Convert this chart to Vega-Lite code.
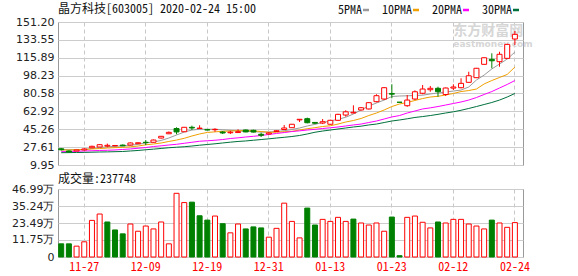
{
  "$schema": "https://vega.github.io/schema/vega-lite/v6.json",
  "background": "white",
  "padding": {"left": 5, "top": 2, "right": 5, "bottom": 2},
  "spacing": 1,
  "config": {
    "font": "DejaVu Sans",
    "view": {"stroke": "#999999", "strokeWidth": 1},
    "axisY": {"labelOverlap": false, "labelFlush": false, "labelBound": false, "grid": true, "gridColor": "#cccccc", "domain": false, "ticks": false, "tickSize": 0, "labelPadding": 4, "labelFont": "DejaVu Sans", "labelFontSize": 11, "labelColor": "#222222", "minExtent": 52, "maxExtent": 52, "title": null}
  },
  "datasets": {
    "k": [
      {"date":"11-22","open":26.0,"high":26.7,"low":24.3,"close":25.0,"vol":9.1,"dir":"down","5PMA":25.3,"10PMA":24.8,"20PMA":23.1,"30PMA":22.1},
      {"date":"11-25","open":23.8,"high":24.3,"low":22.3,"close":22.8,"vol":9.1,"dir":"down","5PMA":25.1,"10PMA":24.8,"20PMA":23.3,"30PMA":22.2},
      {"date":"11-26","open":23.8,"high":25.1,"low":23.5,"close":24.8,"vol":7.5,"dir":"up","5PMA":25.0,"10PMA":25.0,"20PMA":23.5,"30PMA":22.3},
      {"date":"11-27","open":24.8,"high":26.7,"low":24.3,"close":25.8,"vol":10.5,"dir":"up","5PMA":25.3,"10PMA":25.2,"20PMA":23.8,"30PMA":22.4},
      {"date":"11-28","open":27.0,"high":29.0,"low":26.7,"close":28.4,"vol":25.3,"dir":"up","5PMA":26.3,"10PMA":25.8,"20PMA":24.0,"30PMA":22.6},
      {"date":"11-29","open":27.7,"high":30.7,"low":27.7,"close":30.0,"vol":29.7,"dir":"up","5PMA":27.2,"10PMA":26.2,"20PMA":24.3,"30PMA":22.8},
      {"date":"12-02","open":28.6,"high":31.1,"low":27.4,"close":29.4,"vol":24.2,"dir":"down","5PMA":27.9,"10PMA":26.7,"20PMA":24.5,"30PMA":22.9},
      {"date":"12-03","open":28.9,"high":29.7,"low":28.4,"close":29.2,"vol":18.7,"dir":"down","5PMA":28.4,"10PMA":27.1,"20PMA":24.8,"30PMA":23.1},
      {"date":"12-04","open":29.6,"high":30.2,"low":28.6,"close":28.9,"vol":16.0,"dir":"down","5PMA":28.7,"10PMA":27.4,"20PMA":25.3,"30PMA":23.3},
      {"date":"12-05","open":29.7,"high":32.2,"low":29.2,"close":31.7,"vol":22.8,"dir":"up","5PMA":29.4,"10PMA":27.9,"20PMA":25.8,"30PMA":23.8},
      {"date":"12-06","open":31.0,"high":32.3,"low":30.7,"close":31.9,"vol":17.8,"dir":"up","5PMA":30.4,"10PMA":28.7,"20PMA":26.5,"30PMA":24.3},
      {"date":"12-09","open":32.4,"high":34.6,"low":29.7,"close":32.1,"vol":21.4,"dir":"up","5PMA":31.7,"10PMA":29.9,"20PMA":27.2,"30PMA":25.0},
      {"date":"12-10","open":32.4,"high":35.1,"low":32.2,"close":34.6,"vol":19.4,"dir":"up","5PMA":32.7,"10PMA":30.7,"20PMA":28.2,"30PMA":25.6},
      {"date":"12-11","open":36.6,"high":38.6,"low":36.1,"close":38.3,"vol":24.2,"dir":"up","5PMA":34.2,"10PMA":31.7,"20PMA":28.9,"30PMA":26.3},
      {"date":"12-12","open":40.8,"high":43.0,"low":40.5,"close":42.2,"vol":9.1,"dir":"up","5PMA":36.6,"10PMA":33.2,"20PMA":29.7,"30PMA":27.0},
      {"date":"12-13","open":46.0,"high":47.2,"low":40.3,"close":42.6,"vol":44.0,"dir":"up","5PMA":39.6,"10PMA":34.6,"20PMA":30.4,"30PMA":27.5},
      {"date":"12-16","open":42.8,"high":47.5,"low":42.6,"close":47.2,"vol":37.6,"dir":"up","5PMA":42.5,"10PMA":36.3,"20PMA":31.4,"30PMA":28.0},
      {"date":"12-17","open":47.2,"high":48.8,"low":44.5,"close":46.5,"vol":37.9,"dir":"down","5PMA":44.5,"10PMA":38.6,"20PMA":32.4,"30PMA":28.7},
      {"date":"12-18","open":46.0,"high":49.2,"low":45.5,"close":46.4,"vol":28.5,"dir":"down","5PMA":45.2,"10PMA":40.6,"20PMA":33.4,"30PMA":29.5},
      {"date":"12-19","open":44.9,"high":45.0,"low":44.3,"close":44.5,"vol":25.5,"dir":"down","5PMA":45.3,"10PMA":42.1,"20PMA":33.9,"30PMA":30.2},
      {"date":"12-20","open":44.8,"high":46.2,"low":42.8,"close":45.2,"vol":28.3,"dir":"up","5PMA":45.2,"10PMA":42.7,"20PMA":34.4,"30PMA":30.9},
      {"date":"12-23","open":42.5,"high":43.5,"low":40.6,"close":41.6,"vol":23.0,"dir":"down","5PMA":44.7,"10PMA":43.2,"20PMA":35.1,"30PMA":31.7},
      {"date":"12-24","open":41.8,"high":43.8,"low":40.6,"close":42.4,"vol":16.7,"dir":"up","5PMA":44.2,"10PMA":43.5,"20PMA":36.1,"30PMA":32.5},
      {"date":"12-25","open":42.0,"high":45.2,"low":41.6,"close":42.9,"vol":22.8,"dir":"up","5PMA":43.7,"10PMA":43.8,"20PMA":36.8,"30PMA":33.2},
      {"date":"12-26","open":44.5,"high":45.0,"low":42.3,"close":42.6,"vol":19.4,"dir":"down","5PMA":43.2,"10PMA":44.0,"20PMA":37.6,"30PMA":33.7},
      {"date":"12-27","open":44.2,"high":44.8,"low":42.1,"close":42.5,"vol":20.8,"dir":"down","5PMA":42.8,"10PMA":43.7,"20PMA":38.3,"30PMA":34.4},
      {"date":"12-30","open":40.3,"high":41.9,"low":37.6,"close":39.3,"vol":20.1,"dir":"down","5PMA":42.5,"10PMA":43.0,"20PMA":39.1,"30PMA":35.1},
      {"date":"12-31","open":40.6,"high":42.2,"low":40.0,"close":41.6,"vol":13.7,"dir":"up","5PMA":42.5,"10PMA":42.3,"20PMA":40.1,"30PMA":35.8},
      {"date":"01-02","open":43.0,"high":44.2,"low":42.7,"close":43.8,"vol":19.8,"dir":"up","5PMA":43.0,"10PMA":42.3,"20PMA":41.1,"30PMA":36.6},
      {"date":"01-03","open":45.0,"high":49.5,"low":44.5,"close":46.5,"vol":37.2,"dir":"up","5PMA":43.8,"10PMA":42.8,"20PMA":42.0,"30PMA":37.3},
      {"date":"01-06","open":46.8,"high":50.5,"low":46.5,"close":50.2,"vol":24.6,"dir":"up","5PMA":45.0,"10PMA":43.2,"20PMA":43.0,"30PMA":38.1},
      {"date":"01-07","open":54.5,"high":55.3,"low":52.4,"close":55.1,"vol":13.2,"dir":"up","5PMA":46.5,"10PMA":44.5,"20PMA":43.7,"30PMA":39.1},
      {"date":"01-08","open":55.7,"high":56.7,"low":51.1,"close":51.7,"vol":33.8,"dir":"down","5PMA":48.5,"10PMA":45.8,"20PMA":44.5,"30PMA":40.6},
      {"date":"01-09","open":52.0,"high":52.4,"low":50.4,"close":51.2,"vol":22.1,"dir":"down","5PMA":50.1,"10PMA":46.8,"20PMA":45.2,"30PMA":42.3},
      {"date":"01-10","open":51.4,"high":55.4,"low":50.4,"close":52.7,"vol":26.0,"dir":"up","5PMA":51.9,"10PMA":48.0,"20PMA":46.0,"30PMA":43.5},
      {"date":"01-13","open":50.2,"high":54.7,"low":49.8,"close":54.1,"vol":24.6,"dir":"up","5PMA":53.4,"10PMA":48.7,"20PMA":46.7,"30PMA":44.5},
      {"date":"01-14","open":54.1,"high":60.5,"low":53.6,"close":60.0,"vol":27.4,"dir":"up","5PMA":55.1,"10PMA":50.4,"20PMA":47.5,"30PMA":45.5},
      {"date":"01-15","open":59.3,"high":64.0,"low":57.7,"close":62.5,"vol":24.6,"dir":"up","5PMA":57.1,"10PMA":52.4,"20PMA":48.5,"30PMA":46.5},
      {"date":"01-16","open":61.3,"high":68.9,"low":61.1,"close":62.0,"vol":26.2,"dir":"down","5PMA":60.3,"10PMA":53.9,"20PMA":49.5,"30PMA":47.5},
      {"date":"01-17","open":64.3,"high":67.2,"low":63.8,"close":66.5,"vol":23.5,"dir":"up","5PMA":64.3,"10PMA":55.9,"20PMA":50.4,"30PMA":48.3},
      {"date":"01-20","open":65.3,"high":72.0,"low":64.8,"close":71.5,"vol":22.1,"dir":"up","5PMA":68.2,"10PMA":58.8,"20PMA":51.9,"30PMA":49.5},
      {"date":"01-21","open":72.5,"high":79.8,"low":71.9,"close":78.4,"vol":23.5,"dir":"up","5PMA":71.2,"10PMA":61.3,"20PMA":53.4,"30PMA":50.4},
      {"date":"01-22","open":75.1,"high":87.0,"low":74.1,"close":86.3,"vol":17.8,"dir":"up","5PMA":74.1,"10PMA":64.3,"20PMA":55.4,"30PMA":51.9},
      {"date":"01-23","open":80.6,"high":89.7,"low":75.8,"close":79.9,"vol":27.6,"dir":"down","5PMA":77.6,"10PMA":67.7,"20PMA":57.4,"30PMA":53.4},
      {"date":"02-03","open":71.95,"high":71.95,"low":71.9,"close":71.9,"vol":0.9,"dir":"down","5PMA":78.1,"10PMA":70.2,"20PMA":58.8,"30PMA":54.4},
      {"date":"02-04","open":68.5,"high":79.1,"low":67.5,"close":74.1,"vol":27.4,"dir":"up","5PMA":78.3,"10PMA":71.7,"20PMA":61.3,"30PMA":55.6},
      {"date":"02-05","open":75.1,"high":83.7,"low":74.1,"close":82.3,"vol":28.3,"dir":"up","5PMA":78.6,"10PMA":73.7,"20PMA":63.3,"30PMA":56.9},
      {"date":"02-06","open":80.8,"high":89.0,"low":79.8,"close":85.0,"vol":24.0,"dir":"up","5PMA":78.9,"10PMA":75.6,"20PMA":65.3,"30PMA":57.8},
      {"date":"02-07","open":84.3,"high":88.0,"low":82.3,"close":85.7,"vol":20.1,"dir":"up","5PMA":80.1,"10PMA":77.1,"20PMA":66.4,"30PMA":58.8},
      {"date":"02-10","open":85.7,"high":87.3,"low":77.4,"close":82.4,"vol":24.2,"dir":"down","5PMA":81.1,"10PMA":77.8,"20PMA":67.7,"30PMA":60.0},
      {"date":"02-11","open":79.6,"high":86.5,"low":78.1,"close":86.0,"vol":23.5,"dir":"up","5PMA":82.0,"10PMA":79.1,"20PMA":69.2,"30PMA":61.3},
      {"date":"02-12","open":85.9,"high":89.7,"low":84.0,"close":87.0,"vol":26.0,"dir":"up","5PMA":83.0,"10PMA":80.6,"20PMA":70.7,"30PMA":62.5},
      {"date":"02-13","open":86.3,"high":95.6,"low":85.7,"close":90.6,"vol":26.0,"dir":"up","5PMA":84.0,"10PMA":82.5,"20PMA":72.2,"30PMA":64.0},
      {"date":"02-14","open":91.6,"high":102.1,"low":91.6,"close":98.1,"vol":22.8,"dir":"up","5PMA":87.0,"10PMA":83.5,"20PMA":74.1,"30PMA":65.8},
      {"date":"02-17","open":96.2,"high":105.8,"low":95.9,"close":105.5,"vol":21.4,"dir":"up","5PMA":93.9,"10PMA":85.0,"20PMA":76.6,"30PMA":67.7},
      {"date":"02-18","open":109.4,"high":116.3,"low":109.0,"close":115.9,"vol":19.4,"dir":"up","5PMA":98.8,"10PMA":90.0,"20PMA":79.6,"30PMA":69.7},
      {"date":"02-19","open":114.3,"high":120.3,"low":105.5,"close":112.9,"vol":25.5,"dir":"down","5PMA":104.8,"10PMA":93.4,"20PMA":82.5,"30PMA":71.7},
      {"date":"02-20","open":112.0,"high":121.8,"low":107.0,"close":119.3,"vol":23.5,"dir":"up","5PMA":109.7,"10PMA":96.4,"20PMA":86.0,"30PMA":74.1},
      {"date":"02-21","open":115.3,"high":129.6,"low":114.8,"close":129.1,"vol":20.5,"dir":"up","5PMA":114.6,"10PMA":99.4,"20PMA":89.5,"30PMA":77.1},
      {"date":"02-24","open":134.4,"high":142.3,"low":128.5,"close":139.0,"vol":23.7748,"dir":"up","5PMA":121.5,"10PMA":106.7,"20PMA":93.4,"30PMA":80.6}
    ]
  },
  "vconcat": [
    {
      "width": 465,
      "height": 143,
      "title": {"text": "晶方科技[603005] 2020-02-24 15:00", "anchor": "start", "frame": "group", "font": "Noto Sans Mono CJK SC, Noto Sans CJK SC, DejaVu Sans Mono", "fontSize": 12, "fontWeight": "normal", "color": "#111111", "offset": 0},
      "data": {"name": "k"},
      "encoding": {
        "x": {
          "field": "date", "type": "ordinal", "sort": null,
          "scale": {"type": "band", "paddingInner": 0.35, "paddingOuter": 0.41, "align": 0.11,
            "domain": ["11-22","11-25","11-26","11-27","11-28","11-29","12-02","12-03","12-04","12-05","12-06","12-09","12-10","12-11","12-12","12-13","12-16","12-17","12-18","12-19","12-20","12-23","12-24","12-25","12-26","12-27","12-30","12-31","01-02","01-03","01-06","01-07","01-08","01-09","01-10","01-13","01-14","01-15","01-16","01-17","01-20","01-21","01-22","01-23","02-03","02-04","02-05","02-06","02-07","02-10","02-11","02-12","02-13","02-14","02-17","02-18","02-19","02-20","02-21","02-24"]},
          "axis": {"title": null, "values": ["11-27","12-09","12-19","12-31","01-13","01-23","02-12","02-24"], "labels": false, "ticks": false, "tickSize": 0, "domain": false, "grid": true, "gridDash": [4, 3], "gridColor": "#c8c8c8", "bandPosition": 0.5}
        }
      },
      "layer": [
        {
          "transform": [{"fold": ["5PMA", "10PMA", "20PMA", "30PMA"], "as": ["ma", "val"]}],
          "mark": {"type": "line", "strokeWidth": 1},
          "encoding": {
            "y": {"field": "val", "type": "quantitative", "scale": {"domain": [9.95, 151.2], "nice": false, "zero": false}, "axis": {"values": [9.95, 27.61, 45.26, 62.92, 80.58, 98.23, 115.89, 133.55, 151.2], "format": ".2f"}},
            "order": {"value": null},
            "color": {
              "field": "ma", "type": "nominal",
              "scale": {"domain": ["5PMA", "10PMA", "20PMA", "30PMA"], "range": ["#9a9a9a", "#f0a000", "#ff00ff", "#00703c"]},
              "legend": {"title": null, "orient": "none", "legendX": 302, "legendY": -18, "direction": "horizontal", "columns": 4, "symbolType": "stroke", "symbolSize": 36, "symbolStrokeWidth": 2.5, "labelAlign": "right", "labelOffset": -10, "columnPadding": 7, "labelFont": "Noto Sans Mono CJK SC, Noto Sans CJK SC, DejaVu Sans Mono", "labelFontSize": 12, "labelColor": "#111111", "padding": 0}
            }
          }
        },
        {
          "data": {"values": [{}]},
          "mark": {"type": "text", "text": "东方财富网", "font": "Noto Sans CJK SC", "fontSize": 14, "fontWeight": "bold", "color": "#d6d6d6", "align": "left", "baseline": "middle"},
          "encoding": {
            "x": {"datum": "02-12"},
            "y": {"datum": 142.0, "type": "quantitative", "axis": {"values": [9.95, 27.61, 45.26, 62.92, 80.58, 98.23, 115.89, 133.55, 151.2], "format": ".2f"}}
          }
        },
        {
          "data": {"values": [{}]},
          "mark": {"type": "text", "text": "eastmoney.com", "font": "DejaVu Sans", "fontSize": 9, "fontWeight": "bold", "color": "#d6d6d6", "align": "left", "baseline": "middle"},
          "encoding": {
            "x": {"datum": "02-12"},
            "y": {"datum": 129.3, "type": "quantitative", "axis": {"values": [9.95, 27.61, 45.26, 62.92, 80.58, 98.23, 115.89, 133.55, 151.2], "format": ".2f"}}
          }
        },
        {
          "mark": {"type": "rule", "strokeWidth": 1},
          "encoding": {
            "y": {"field": "low", "type": "quantitative", "axis": {"values": [9.95, 27.61, 45.26, 62.92, 80.58, 98.23, 115.89, 133.55, 151.2], "format": ".2f"}},
            "y2": {"field": "high"},
            "stroke": {"condition": {"test": "datum.close >= datum.open", "value": "#ff0000"}, "value": "#008000"}
          }
        },
        {
          "mark": {"type": "bar", "strokeWidth": 1},
          "encoding": {
            "y": {"field": "open", "type": "quantitative", "axis": {"values": [9.95, 27.61, 45.26, 62.92, 80.58, 98.23, 115.89, 133.55, 151.2], "format": ".2f"}},
            "y2": {"field": "close"},
            "fill": {"condition": {"test": "datum.close >= datum.open", "value": "#ffffff"}, "value": "#008000"},
            "stroke": {"condition": {"test": "datum.close >= datum.open", "value": "#ff0000"}, "value": "#008000"}
          }
        }
      ]
    },
    {
      "width": 465,
      "height": 68,
      "title": {"text": "成交量:237748", "anchor": "start", "frame": "group", "font": "Noto Sans Mono CJK SC, Noto Sans CJK SC, DejaVu Sans Mono", "fontSize": 12, "fontWeight": "normal", "color": "#111111", "offset": -3},
      "data": {"name": "k"},
      "mark": {"type": "bar", "strokeWidth": 1},
      "encoding": {
        "x": {
          "field": "date", "type": "ordinal", "sort": null,
          "scale": {"type": "band", "paddingInner": 0.35, "paddingOuter": 0.41, "align": 0.11,
            "domain": ["11-22","11-25","11-26","11-27","11-28","11-29","12-02","12-03","12-04","12-05","12-06","12-09","12-10","12-11","12-12","12-13","12-16","12-17","12-18","12-19","12-20","12-23","12-24","12-25","12-26","12-27","12-30","12-31","01-02","01-03","01-06","01-07","01-08","01-09","01-10","01-13","01-14","01-15","01-16","01-17","01-20","01-21","01-22","01-23","02-03","02-04","02-05","02-06","02-07","02-10","02-11","02-12","02-13","02-14","02-17","02-18","02-19","02-20","02-21","02-24"]},
          "axis": {"title": null, "values": ["11-27","12-09","12-19","12-31","01-13","01-23","02-12","02-24"], "labelAngle": 0, "labelColor": "#ff0000", "labelFont": "Noto Sans Mono CJK SC, Noto Sans CJK SC, DejaVu Sans Mono", "labelFontSize": 12, "labelPadding": 4, "ticks": false, "tickSize": 0, "domain": false, "grid": true, "gridDash": [4, 3], "gridColor": "#c8c8c8", "bandPosition": 0.5}
        },
        "y": {
          "field": "vol", "type": "quantitative",
          "scale": {"domain": [0, 46.99], "nice": false},
          "axis": {"values": [0, 11.75, 23.49, 35.24, 46.99], "labelExpr": "datum.value == 0 ? '0' : format(datum.value, '.2f') + '万'"}
        },
        "fill": {"condition": {"test": "datum.dir == 'up'", "value": "#ffffff"}, "value": "#008000"},
        "stroke": {"condition": {"test": "datum.dir == 'up'", "value": "#ff0000"}, "value": "#008000"}
      }
    }
  ]
}
